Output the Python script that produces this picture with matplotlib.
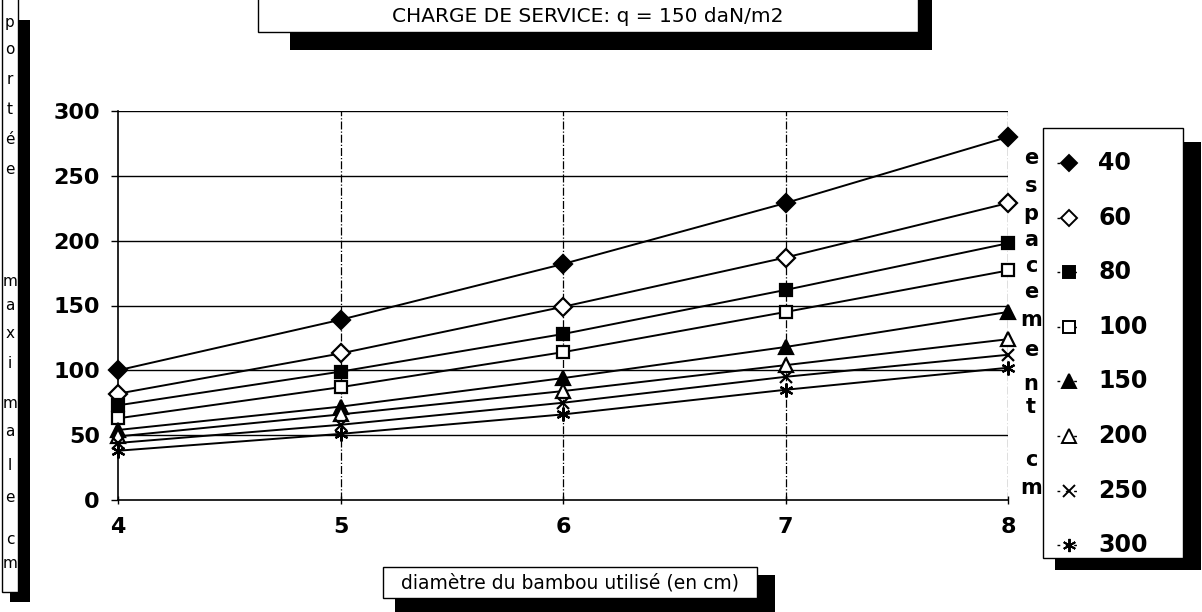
import numpy as np
import matplotlib.pyplot as plt
from matplotlib.patches import Rectangle
from matplotlib.lines import Line2D

# données
diametre = [4, 5, 6, 7, 8]
espacements = ['40', '60', '80', '100', '150', '200', '250', '300']
p40 = [100, 139, 182, 229, 280]
p60 = [82, 113, 149, 187, 229]
p80 = [73, 99, 128, 162, 198]
p100 = [63, 87, 114, 145, 177]
p150 = [54, 72, 94, 118, 145]
p200 = [49, 66, 84, 104, 124]
p250 = [44, 58, 75, 95, 112]
p300 = [38, 51, 66, 85, 102]
series = [p40, p60, p80, p100, p150, p200, p250, p300]
yticks = [0, 50, 100, 150, 200, 250, 300]

titre = "CHARGE DE SERVICE: q = 150 daN/m2"
xlabel = "diamètre du bambou utilisé (en cm)"
ylabel = "portée maximale cm"

W, H = 1202, 612
fig = plt.figure(figsize=(W / 100, H / 100), dpi=100)

def fx(px):
    return px / W

def fy(py):
    return 1 - py / H

def box(x0, y0, x1, y1, shadow):
    # ombre noire puis boite blanche par dessus
    sx0, sy0, sx1, sy1 = shadow
    fig.patches.append(Rectangle((fx(sx0), fy(sy1)), (sx1 - sx0) / W, (sy1 - sy0) / H,
                                 transform=fig.transFigure, facecolor='black',
                                 edgecolor='none', zorder=1))
    fig.patches.append(Rectangle((fx(x0), fy(y1)), (x1 - x0) / W, (y1 - y0) / H,
                                 transform=fig.transFigure, facecolor='white',
                                 edgecolor='black', lw=1, zorder=2))

styles = [
    dict(marker='D', mfc='black', ms=9),
    dict(marker='D', mfc='white', ms=9),
    dict(marker='s', mfc='black', ms=9),
    dict(marker='s', mfc='white', ms=9),
    dict(marker='^', mfc='black', ms=10),
    dict(marker='^', mfc='white', ms=10),
    dict(marker='x', mfc='black', ms=9),
    dict(marker=(6, 2, 0), mfc='black', ms=10),
]

ax = fig.add_axes([fx(118), fy(500), (1008 - 118) / W, (500 - 111) / H])
for vals, st in zip(series, styles):
    ax.plot(diametre, vals, color='black', lw=1.4, mec='black', mew=1.6,
            clip_on=False, zorder=3, **st)

ax.set_xlim(4, 8)
ax.set_ylim(0, 300)
ax.set_xticks(diametre)
ax.set_yticks(yticks)
for y in yticks[1:]:
    ax.axhline(y, color='black', lw=1, zorder=1)
for x in diametre[1:]:
    ax.axvline(x, color='black', lw=0.9, ls='-.', zorder=1)
for s in ['top', 'right']:
    ax.spines[s].set_visible(False)
ax.spines['left'].set_linewidth(1.2)
ax.spines['bottom'].set_linewidth(1.2)
ax.tick_params(axis='y', length=5, width=1, direction='out', pad=8, labelsize=16)
ax.tick_params(axis='x', length=6, width=1, direction='inout', pad=9, labelsize=16)
for lab in ax.get_xticklabels() + ax.get_yticklabels():
    lab.set_fontweight('bold')

# titre encadré
box(258, -5, 918, 32, (290, -5, 932, 50))
fig.text(fx(588), fy(17), titre, ha='center', va='center', fontsize=14.5, zorder=3)

# légende de l'axe x
box(383, 567, 757, 598, (395, 575, 775, 615))
fig.text(fx(570), fy(583), xlabel, ha='center', va='center', fontsize=13.5, zorder=3)

# légende de l'axe y, lettres empilées
box(2, -5, 18, 592, (10, 20, 30, 602))
ylet_y = [22, 50, 80, 110, 140, 170, 282, 305, 334, 364, 403, 432, 465, 497, 540, 564]
letters = [c for c in ylabel if c != ' ']
for c, py in zip(letters, ylet_y):
    fig.text(fx(10), fy(py), c, ha='center', va='center', fontsize=11, zorder=3)

# "espacement cm" empilé
esp_letters = list("espacementcm")
esp_y = [158, 186, 214, 240, 266, 292, 320, 350, 384, 407, 460, 488]
for c, py in zip(esp_letters, esp_y):
    fig.text(fx(1031), fy(py), c, ha='center', va='center', fontsize=15,
             fontweight='bold', zorder=5)

# légende
box(1043, 128, 1183, 558, (1055, 142, 1201, 570))
leg_y0, leg_step = 163, 54.6
for i, (lab, st) in enumerate(zip(espacements, styles)):
    py = fy(leg_y0 + i * leg_step)
    ln = Line2D([fx(1057), fx(1069), fx(1081)], [py, py, py], transform=fig.transFigure,
                color='black', lw=1, ls=(0, (2, 4)), markevery=[1], mec='black',
                mew=1.4, zorder=4, **dict(st, ms=st['ms'] - 0.5))
    fig.add_artist(ln)
    fig.text(fx(1098), py, lab, ha='left', va='center', fontsize=17,
             fontweight='bold', zorder=4)

fig.savefig('out.png', dpi=100)
